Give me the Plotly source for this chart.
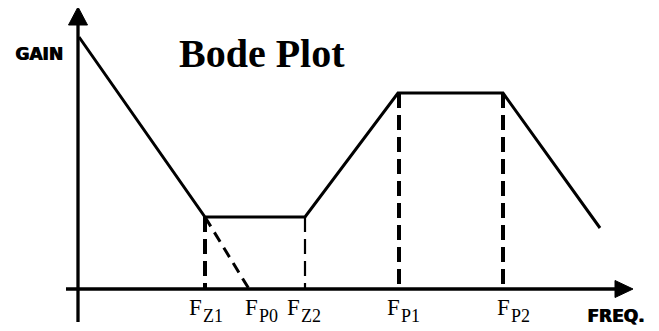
import plotly.graph_objects as go

corner_freq = [79, 205, 305, 398, 503, 600]   # asymptote corners of the gain curve
corner_gain = [294, 114, 114, 238, 238, 103]

break_names = ["Z1", "P0", "Z2", "P1", "P2"]
break_freq = [205, 249, 305, 399, 503]
break_top = [114, 114, 114, 238, 238]          # curve level where each dashed drop starts

x_axis = dict(start=66, end=633, level=42)
y_axis = dict(pos=78, start=9, end=324)

title_text = "Bode Plot"
gain_label = "GAIN"
freq_label = "FREQ."

# ===== style / placement =====
ink = "black"
label_left = [189, 245, 287, 387, 497]   # left edge of each "F"
serif = "Liberation Serif"
heavy = dict(family="DejaVu Sans", size=17, color=ink, weight="bold", shadow="1px 0px 0px black")
page_pad = 8   # default body margin of the html page; ranges are shifted to cancel it

fig = go.Figure()

# axes
fig.add_trace(go.Scatter(x=[x_axis["start"], x_axis["end"] - 16], y=[x_axis["level"]] * 2,
                         mode="lines", line=dict(color=ink, width=3.3), hoverinfo="skip"))
fig.add_trace(go.Scatter(x=[y_axis["pos"]] * 2, y=[y_axis["start"], y_axis["end"] - 16],
                         mode="lines", line=dict(color=ink, width=3.3), hoverinfo="skip"))

# arrow heads, built from the axis ends
ah_len, ah_half = 18, 8.5
xe, yl = x_axis["end"], x_axis["level"]
fig.add_trace(go.Scatter(x=[xe, xe - ah_len, xe - ah_len, xe], y=[yl, yl + ah_half, yl - ah_half, yl],
                         mode="lines", fill="toself", fillcolor=ink, line=dict(color=ink, width=1),
                         hoverinfo="skip"))
yp, ye = y_axis["pos"], y_axis["end"]
fig.add_trace(go.Scatter(x=[yp, yp - ah_half - 1, yp + ah_half + 1, yp], y=[ye, ye - ah_len, ye - ah_len, ye],
                         mode="lines", fill="toself", fillcolor=ink, line=dict(color=ink, width=1),
                         hoverinfo="skip"))

# gain asymptotes
fig.add_trace(go.Scatter(x=corner_freq, y=corner_gain, mode="lines",
                         line=dict(color=ink, width=3), hoverinfo="skip"))

# dashed drops to the frequency axis (P0 continues the first slope down to the axis)
widths = {"Z1": 4, "P0": 3, "Z2": 2.2, "P1": 4, "P2": 4}
for name, f, top in zip(break_names, break_freq, break_top):
    if name == "P0":
        xs, ys, dash = [corner_freq[1], f], [top, x_axis["level"]], "11px,7px"
    else:
        xs, ys, dash = [f, f], [top, x_axis["level"]], "15px,7px"
    fig.add_trace(go.Scatter(x=xs, y=ys, mode="lines",
                             line=dict(color=ink, width=widths[name], dash=dash),
                             hoverinfo="skip"))

# frequency labels: F with a subscript
for name, left in zip(break_names, label_left):
    fig.add_annotation(x=left, y=23.5, text="F", showarrow=False,
                       xanchor="left", yanchor="middle", xshift=-2,
                       font=dict(family=serif, size=23, color=ink))
    fig.add_annotation(x=left + 14, y=15, text=name, showarrow=False,
                       xanchor="left", yanchor="middle", xshift=-2,
                       font=dict(family=serif, size=18, color=ink))

fig.add_annotation(x=262, y=278, text=f"<b>{title_text}</b>", showarrow=False,
                   yanchor="middle", font=dict(family=serif, size=40, color=ink))
fig.add_annotation(x=39, y=277, text=gain_label, showarrow=False, yanchor="middle", font=heavy)
fig.add_annotation(x=615, y=15, text=freq_label, showarrow=False, yanchor="middle", font=heavy)

fig.update_layout(
    width=659, height=331,
    margin=dict(l=0, r=0, t=0, b=0),
    showlegend=False,
    plot_bgcolor="white", paper_bgcolor="white",
    xaxis=dict(range=[page_pad, 659 + page_pad], visible=False, fixedrange=True),
    yaxis=dict(range=[-page_pad, 331 - page_pad], visible=False, fixedrange=True),
)
fig.write_html("out.html")
